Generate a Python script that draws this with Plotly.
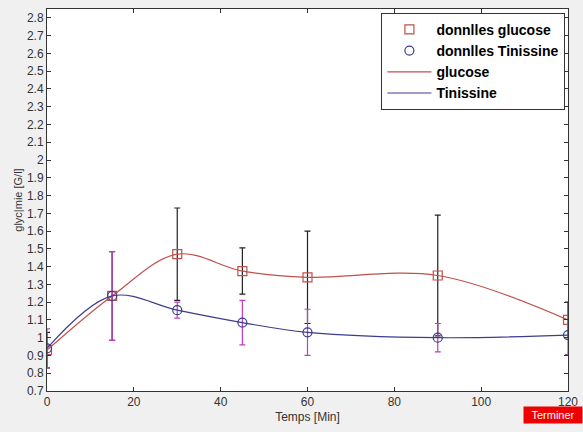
import plotly.graph_objects as go

temps = [0, 15, 30, 45, 60, 90, 120]
glucose = [0.93, 1.235, 1.47, 1.375, 1.34, 1.35, 1.10]
glucose_err = [0.10, 0.25, 0.26, 0.13, 0.26, 0.34, 0.10]
tinissine = [0.94, 1.235, 1.155, 1.085, 1.03, 1.00, 1.015]
tinissine_err = [0.11, 0.25, 0.045, 0.125, 0.13, 0.08, 0.11]

ytick_vals = [round(0.7 + 0.1 * i, 1) for i in range(22)]
ytick_text = [("%g" % v) for v in ytick_vals]
xtick_vals = [0, 20, 40, 60, 80, 100, 120]

red = "#c0504a"
blue = "#3c3c90"
mag = "#c03cc8"

fig = go.Figure()
# error bars (drawn without markers)
fig.add_trace(go.Scatter(x=temps, y=glucose, mode="markers", marker=dict(size=1, color="rgba(0,0,0,0)"),
                         error_y=dict(type="data", array=glucose_err, color="#222222", thickness=1.2, width=3),
                         showlegend=False, hoverinfo="skip"))
fig.add_trace(go.Scatter(x=temps, y=tinissine, mode="markers", marker=dict(size=1, color="rgba(0,0,0,0)"),
                         error_y=dict(type="data", array=tinissine_err, color=mag, thickness=1.2, width=3),
                         showlegend=False, hoverinfo="skip"))
fig.add_trace(go.Scatter(x=temps, y=glucose, mode="markers", name="donnlles glucose",
                         marker=dict(symbol="square-open", size=9, color=red, line=dict(width=1.2))))
fig.add_trace(go.Scatter(x=temps, y=tinissine, mode="markers", name="donnlles Tinissine",
                         marker=dict(symbol="circle-open", size=9, color=blue, line=dict(width=1.2))))
fig.add_trace(go.Scatter(x=temps, y=glucose, mode="lines", name="glucose",
                         line=dict(shape="spline", smoothing=1.0, color=red, width=1.2)))
fig.add_trace(go.Scatter(x=temps, y=tinissine, mode="lines", name="Tinissine",
                         line=dict(shape="spline", smoothing=1.0, color=blue, width=1.2)))

axis_common = dict(showgrid=False, zeroline=False, showline=True, linecolor="#333333", linewidth=1,
                   mirror="ticks", ticks="inside", ticklen=4, tickcolor="#333333", automargin=False,
                   tickfont=dict(family="Liberation Sans, Arial", size=12, color="#333333"))

fig.update_xaxes(range=[0, 120], tickvals=xtick_vals,
                 title=dict(text="Temps [Min]", font=dict(family="Liberation Sans, Arial", size=12, color="#333333"), standoff=4),
                 **axis_common)
fig.update_yaxes(range=[0.7, 2.85], tickvals=ytick_vals, ticktext=ytick_text,
                 title=dict(text="glyc|mie [G/l]", font=dict(family="Liberation Sans, Arial", size=11, color="#333333"), standoff=2),
                 **axis_common)

fig.add_annotation(x=1.0, y=-0.039, xref="paper", yref="paper", xanchor="left", yanchor="top",
                   xshift=-45, text="Terminer", showarrow=False, bgcolor="#ee0000",
                   font=dict(family="Liberation Sans, Arial", size=11, color="white"),
                   width=56, height=14)

fig.update_layout(
    width=583, height=432,
    margin=dict(l=47, r=15, t=9, b=41),
    paper_bgcolor="#f0f0f0", plot_bgcolor="white",
    legend=dict(x=0.995, y=0.99, xanchor="right", yanchor="top", bgcolor="white",
                bordercolor="#333333", borderwidth=1,
                font=dict(family="Liberation Sans, Arial", size=14, color="black", weight="bold"),
                tracegroupgap=0, itemwidth=44),
)
fig.write_html("out.html", config={"displayModeBar": False},
               post_script="document.body.style.margin='0';")
